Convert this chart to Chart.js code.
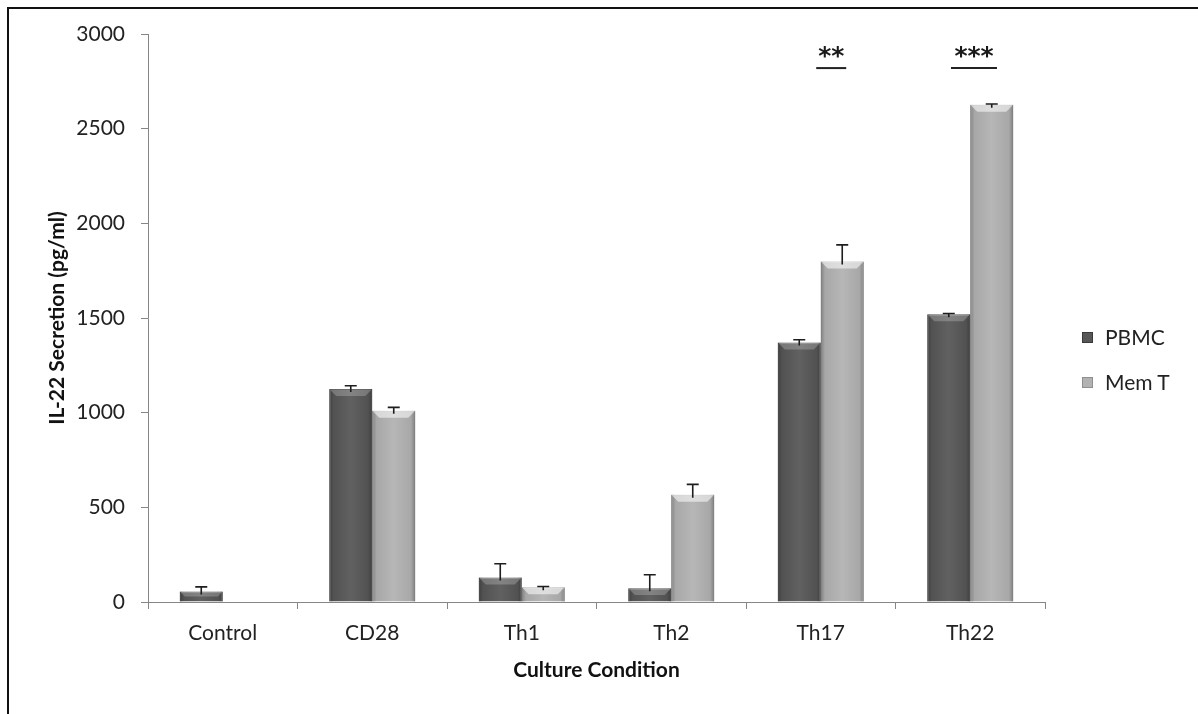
<!DOCTYPE html>
<html>
<head>
<meta charset="utf-8">
<script src="https://cdn.jsdelivr.net/npm/chart.js@4.4.1/dist/chart.umd.min.js"></script>
<style>
  html, body { margin: 0; padding: 0; background: #fff; }
  #wrap { position: relative; width: 1198px; height: 714px; overflow: hidden; }
  #frame { position: absolute; left: 7px; top: 7px; width: 1300px; height: 800px;
           border-left: 2px solid #111; border-top: 2px solid #111; }
  canvas { position: absolute; left: 0; top: 0; }
  #legend { position: absolute; left: 1082px; top: 326px; font-family: Lato, sans-serif;
            font-size: 21px; color: #222; }
  .item { position: relative; height: 22px; margin-bottom: 23px; padding-left: 23px; line-height: 22px; }
  .sw { position: absolute; left: 0; top: 6px; width: 11px; height: 11px; }
</style>
</head>
<body>
<div id="wrap">
  <div id="frame"></div>
  <canvas id="c" width="1198" height="714"></canvas>
  <div id="legend"></div>
</div>
<script>
const categories = ['Control', 'CD28', 'Th1', 'Th2', 'Th17', 'Th22'];
const pbmcValues = [55, 1125, 130, 72, 1370, 1520];
const pbmcErrors = [25, 17, 72, 72, 15, 4];
const memTValues = [0, 1010, 78, 567, 1798, 2626];
const memTErrors = [0, 18, 4, 54, 88, 4];
const seriesNames = ['PBMC', 'Mem T'];
const yTickValues = [0, 500, 1000, 1500, 2000, 2500, 3000];
const sigCategories = ['Th17', 'Th22'];
const sigLabels = ['**', '***'];
const sigLineValues = [2820, 2820];
const sigTextValues = [2905, 2905];

const colors = ['#575757', '#b2b2b2'];
const errorSets = [pbmcErrors, memTErrors];

const barStyle = {
  id: 'barStyle',
  afterDatasetsDraw(chart) {
    const ctx = chart.ctx;
    ctx.save();
    chart.data.datasets.forEach((ds, di) => {
      const meta = chart.getDatasetMeta(di);
      meta.data.forEach((bar) => {
        const p = bar.getProps(['x', 'y', 'base', 'width'], true);
        const h = p.base - p.y;
        if (h <= 0.5) return;
        const l = p.x - p.width / 2, r = p.x + p.width / 2;
        const g = ctx.createLinearGradient(l, 0, r, 0);
        g.addColorStop(0, 'rgba(0,0,0,0.28)');
        g.addColorStop(0.1, 'rgba(0,0,0,0.06)');
        g.addColorStop(0.5, 'rgba(255,255,255,0.06)');
        g.addColorStop(0.9, 'rgba(0,0,0,0.06)');
        g.addColorStop(1, 'rgba(0,0,0,0.28)');
        ctx.fillStyle = g;
        ctx.fillRect(l, p.y, p.width, h);
        const bv = Math.min(7, h / 2);
        ctx.beginPath();
        ctx.moveTo(l, p.y); ctx.lineTo(r, p.y);
        ctx.lineTo(r - bv, p.y + bv); ctx.lineTo(l + bv, p.y + bv);
        ctx.closePath();
        ctx.fillStyle = di === 0 ? 'rgba(255,255,255,0.22)' : 'rgba(255,255,255,0.55)';
        ctx.fill();
      });
    });
    ctx.restore();
  }
};

const errorBars = {
  id: 'errorBars',
  afterDatasetsDraw(chart) {
    const ctx = chart.ctx;
    const yScale = chart.scales.y;
    ctx.save();
    ctx.strokeStyle = '#1e1e1e';
    ctx.lineWidth = 1.6;
    chart.data.datasets.forEach((ds, di) => {
      const meta = chart.getDatasetMeta(di);
      const errs = errorSets[di];
      meta.data.forEach((bar, i) => {
        const v = ds.data[i];
        if (!errs[i] || !v) return;
        const x = bar.x;
        const yTop = yScale.getPixelForValue(v + errs[i]);
        const yBase = yScale.getPixelForValue(v) + 3;
        ctx.beginPath();
        ctx.moveTo(x, yBase); ctx.lineTo(x, yTop);
        ctx.moveTo(x - 6, yTop); ctx.lineTo(x + 6, yTop);
        ctx.stroke();
      });
    });
    ctx.restore();
  }
};

const sigMarks = {
  id: 'sigMarks',
  afterDraw(chart) {
    const ctx = chart.ctx;
    const xs = chart.scales.x, ys = chart.scales.y;
    const catW = (xs.right - xs.left) / categories.length;
    const dx = [0.07, 0.025];
    const halfW = [15, 23];
    ctx.save();
    sigCategories.forEach((c, k) => {
      const cx = xs.getPixelForValue(categories.indexOf(c)) + dx[k] * catW;
      const yl = ys.getPixelForValue(sigLineValues[k]);
      const yt = ys.getPixelForValue(sigTextValues[k]);
      ctx.strokeStyle = '#222';
      ctx.lineWidth = 2;
      ctx.beginPath();
      ctx.moveTo(cx - halfW[k], yl); ctx.lineTo(cx + halfW[k], yl);
      ctx.stroke();
      ctx.fillStyle = '#1a1a1a';
      ctx.font = 'bold 25px "DejaVu Sans", sans-serif';
      ctx.textAlign = 'center';
      ctx.textBaseline = 'middle';
      ctx.fillText(sigLabels[k], cx, yt + 6);
    });
    ctx.restore();
  }
};

const tickFont = { family: 'Lato, sans-serif', size: 21 };
const titleFont = { family: 'Lato, sans-serif', size: 21, weight: 'bold' };

const chart = new Chart(document.getElementById('c'), {
  type: 'bar',
  data: {
    labels: categories,
    datasets: [
      { label: seriesNames[0], data: pbmcValues, backgroundColor: colors[0], borderColor: '#3a3a3a', borderWidth: 1,
        categoryPercentage: 0.575, barPercentage: 1.0 },
      { label: seriesNames[1], data: memTValues, backgroundColor: colors[1], borderColor: '#8f8f8f', borderWidth: 1,
        categoryPercentage: 0.575, barPercentage: 1.0 }
    ]
  },
  options: {
    responsive: false,
    animation: false,
    devicePixelRatio: 1,
    layout: { padding: { top: 34, right: 153, bottom: 0, left: 0 } },
    plugins: { legend: { display: false }, tooltip: { enabled: false } },
    scales: {
      x: {
        grid: { display: true, drawOnChartArea: false, drawTicks: true, tickLength: 7, color: '#868686', offset: true },
        border: { display: true, color: '#868686', width: 1 },
        ticks: { font: tickFont, color: '#222', padding: 12, maxRotation: 0 },
        title: { display: true, text: 'Culture Condition', font: titleFont, color: '#111', padding: { top: 0, bottom: 31 } },
        afterFit(s) { s.height = 112; }
      },
      y: {
        min: 0, max: 3000,
        afterBuildTicks(s) { s.ticks = yTickValues.map(v => ({ value: v })); },
        grid: { display: true, drawOnChartArea: false, drawTicks: true, tickLength: 7, color: '#868686' },
        border: { display: true, color: '#868686', width: 1 },
        ticks: { font: tickFont, color: '#222', padding: 16, callback: v => String(v) },
        title: { display: true, text: 'IL-22 Secretion (pg/ml)', font: titleFont, color: '#111', padding: { top: 45, bottom: 0 } },
        afterFit(s) { s.width = 148; }
      }
    }
  },
  plugins: [barStyle, errorBars, sigMarks]
});

const legendEl = document.getElementById('legend');
chart.data.datasets.forEach((ds) => {
  const item = document.createElement('div');
  item.className = 'item';
  const sw = document.createElement('span');
  sw.className = 'sw';
  sw.style.background = ds.backgroundColor;
  sw.style.border = '1px solid ' + ds.borderColor;
  sw.style.boxSizing = 'border-box';
  item.appendChild(sw);
  item.appendChild(document.createTextNode(ds.label));
  legendEl.appendChild(item);
});
</script>
</body>
</html>
